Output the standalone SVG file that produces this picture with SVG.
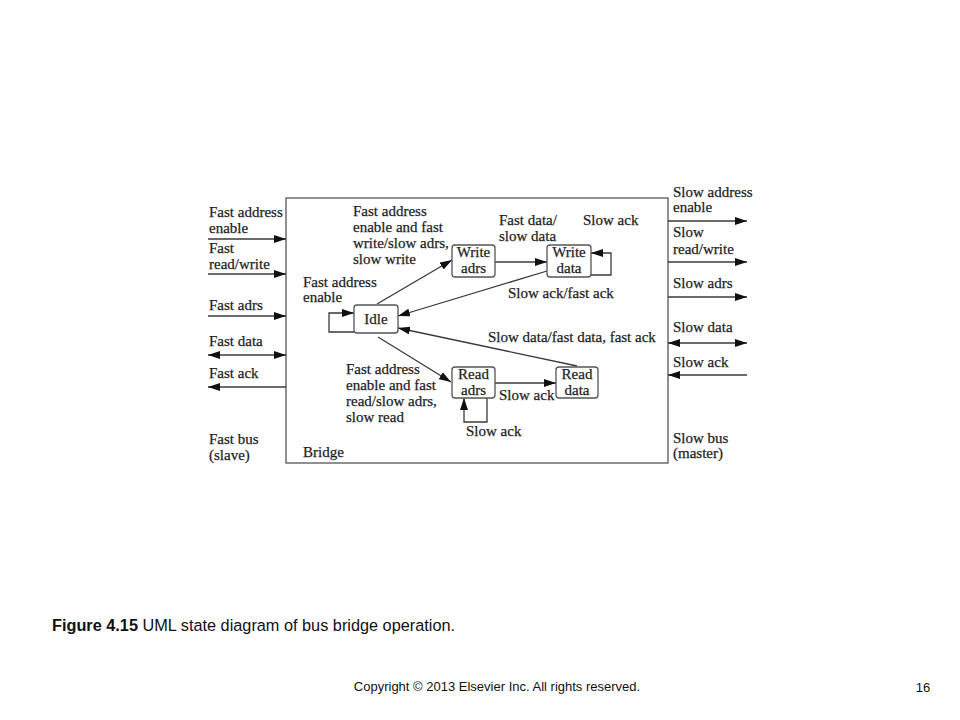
<svg xmlns="http://www.w3.org/2000/svg" width="960" height="720" viewBox="0 0 960 720">
<style>
.t{font-family:"Liberation Serif","Times New Roman",serif;font-size:15px;fill:#1e1e1e;stroke:#1e1e1e;stroke-width:0.25}
.m{text-anchor:middle}
.ln{fill:none;stroke:#3a3a3a;stroke-width:1.3}
.box{fill:#fff;stroke:#555;stroke-width:1.3}
.cap{font-family:"Liberation Sans",Arial,sans-serif;fill:#111}
</style>
<defs>
<marker id="ah" viewBox="0 0 12 8" markerWidth="12" markerHeight="8" refX="12" refY="4" orient="auto-start-reverse" markerUnits="userSpaceOnUse">
<path d="M0,0 L12,4 L0,8 z" fill="#111"/>
</marker>
</defs>
<rect width="960" height="720" fill="#fff"/>

<g id="bridge">
<rect x="286" y="198" width="382" height="265" fill="#fff" stroke="#555" stroke-width="1.3"/>
<text class="t" x="303" y="457">Bridge</text>
</g>

<g id="connectors">
<line class="ln" x1="208" y1="239" x2="286" y2="239" marker-end="url(#ah)"/>
<line class="ln" x1="208" y1="274" x2="286" y2="274" marker-end="url(#ah)"/>
<line class="ln" x1="208" y1="316" x2="286" y2="316" marker-end="url(#ah)"/>
<line class="ln" x1="208" y1="355" x2="286" y2="355" marker-start="url(#ah)" marker-end="url(#ah)"/>
<line class="ln" x1="286" y1="387" x2="208" y2="387" marker-end="url(#ah)"/>
<line class="ln" x1="668" y1="221" x2="747" y2="221" marker-end="url(#ah)"/>
<line class="ln" x1="668" y1="262" x2="747" y2="262" marker-end="url(#ah)"/>
<line class="ln" x1="668" y1="297" x2="747" y2="297" marker-end="url(#ah)"/>
<line class="ln" x1="668" y1="343" x2="747" y2="343" marker-start="url(#ah)" marker-end="url(#ah)"/>
<line class="ln" x1="747" y1="375" x2="668" y2="375" marker-end="url(#ah)"/>
<path class="ln" d="M354,332 H329 V313 H354" marker-end="url(#ah)"/>
<line class="ln" x1="377" y1="304" x2="452" y2="260" marker-end="url(#ah)"/>
<line class="ln" x1="495" y1="262" x2="547" y2="262" marker-end="url(#ah)"/>
<path class="ln" d="M591,275 H611 V253 H591" marker-end="url(#ah)"/>
<line class="ln" x1="547" y1="271" x2="398" y2="316" marker-end="url(#ah)"/>
<line class="ln" x1="378" y1="337" x2="451" y2="382" marker-end="url(#ah)"/>
<line class="ln" x1="495" y1="383" x2="556" y2="383" marker-end="url(#ah)"/>
<path class="ln" d="M487,398 V422 H464 V398" marker-end="url(#ah)"/>
<line class="ln" x1="577" y1="366" x2="398" y2="328" marker-end="url(#ah)"/>
</g>

<g id="idle">
<rect class="box" x="354" y="305" width="44" height="28" rx="3"/>
<text class="t m" x="376" y="324">Idle</text>
</g>
<g id="write-adrs">
<rect class="box" x="452" y="245" width="43" height="32" rx="3"/>
<text class="t m" x="473.5" y="257">Write</text>
<text class="t m" x="473.5" y="273">adrs</text>
</g>
<g id="write-data">
<rect class="box" x="547" y="245" width="44" height="32" rx="3"/>
<text class="t m" x="569" y="257">Write</text>
<text class="t m" x="569" y="273">data</text>
</g>
<g id="read-adrs">
<rect class="box" x="452" y="367" width="43" height="31" rx="3"/>
<text class="t m" x="473.5" y="379">Read</text>
<text class="t m" x="473.5" y="395">adrs</text>
</g>
<g id="read-data">
<rect class="box" x="556" y="367" width="42" height="31" rx="3"/>
<text class="t m" x="577" y="379">Read</text>
<text class="t m" x="577" y="395">data</text>
</g>

<g id="labels">
<text class="t" x="209" y="217">Fast address</text>
<text class="t" x="209" y="233">enable</text>
<text class="t" x="209" y="253">Fast</text>
<text class="t" x="209" y="269">read/write</text>
<text class="t" x="209" y="310">Fast adrs</text>
<text class="t" x="209" y="346">Fast data</text>
<text class="t" x="209" y="378">Fast ack</text>
<text class="t" x="209" y="444">Fast bus</text>
<text class="t" x="209" y="460">(slave)</text>

<text class="t" x="673" y="197">Slow address</text>
<text class="t" x="673" y="212">enable</text>
<text class="t" x="673" y="237">Slow</text>
<text class="t" x="673" y="254">read/write</text>
<text class="t" x="673" y="288">Slow adrs</text>
<text class="t" x="673" y="332">Slow data</text>
<text class="t" x="673" y="367">Slow ack</text>
<text class="t" x="673" y="443">Slow bus</text>
<text class="t" x="673" y="458">(master)</text>

<text class="t" x="353" y="216">Fast address</text>
<text class="t" x="353" y="232">enable and fast</text>
<text class="t" x="353" y="248">write/slow adrs,</text>
<text class="t" x="353" y="264">slow write</text>

<text class="t" x="303" y="287">Fast address</text>
<text class="t" x="303" y="302">enable</text>

<text class="t" x="499" y="225">Fast data/</text>
<text class="t" x="499" y="241">slow data</text>
<text class="t" x="583" y="225">Slow ack</text>
<text class="t" x="508" y="298">Slow ack/fast ack</text>
<text class="t" x="488" y="342">Slow data/fast data, fast ack</text>

<text class="t" x="346" y="374">Fast address</text>
<text class="t" x="346" y="390">enable and fast</text>
<text class="t" x="346" y="406">read/slow adrs,</text>
<text class="t" x="346" y="422">slow read</text>

<text class="t" x="499" y="400">Slow ack</text>
<text class="t" x="466" y="436">Slow ack</text>
</g>

<g id="caption">
<text class="cap" x="52" y="631" font-size="16.3"><tspan font-weight="bold">Figure 4.15</tspan> UML state diagram of bus bridge operation.</text>
<text class="cap" x="497" y="691" font-size="13" text-anchor="middle">Copyright © 2013 Elsevier Inc. All rights reserved.</text>
<text class="cap" x="923" y="692" font-size="13" text-anchor="middle">16</text>
</g>
</svg>
